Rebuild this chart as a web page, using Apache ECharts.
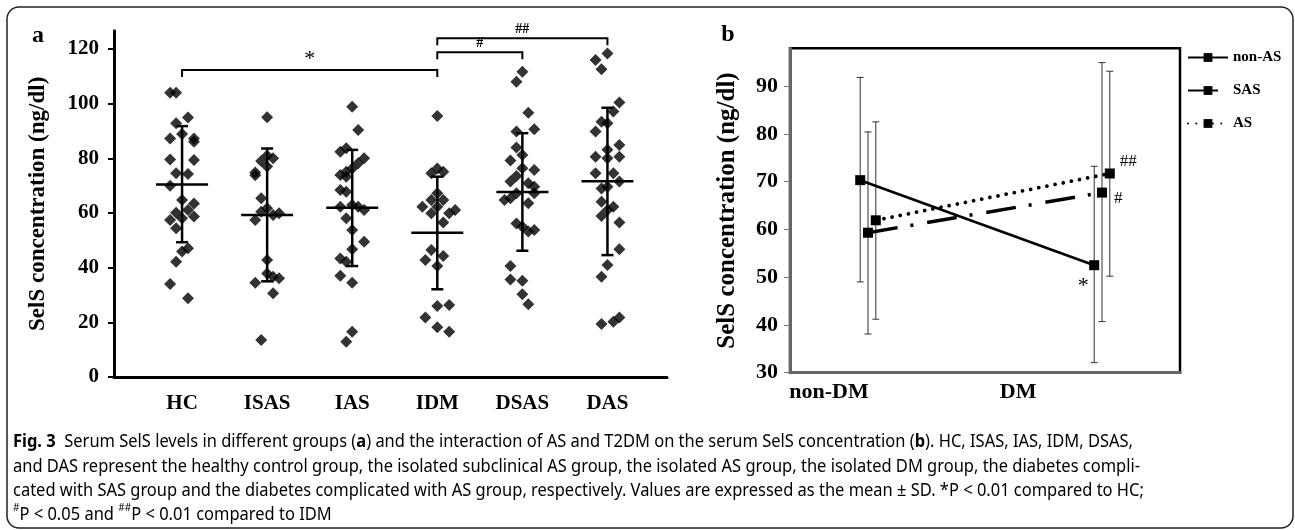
<!DOCTYPE html>
<html>
<head>
<meta charset="utf-8">
<script src="https://cdn.jsdelivr.net/npm/echarts@6/dist/echarts.min.js"></script>
<style>
html, body { margin: 0; padding: 0; background: #fff; }
#chart { width: 1295px; height: 530px; }
</style>
</head>
<body>
<div id="chart"></div>
<script>
// ---- panel a : individual values per group (value, horizontal jitter step) ----
const groups = ['HC', 'ISAS', 'IAS', 'IDM', 'DSAS', 'DAS'];

const hcVals = [104.0, 104.0, 94.9, 92.8, 88.9, 87.3, 87.3, 86.1, 79.6, 79.4, 74.5, 74.3, 70.0, 64.8, 63.5, 61.1, 60.1, 58.7, 58.1, 57.4, 54.4, 47.1, 45.9, 42.2, 34.0, 28.8];
const hcJit  = [-2, -1, 1, -1, 0, -2, 2, 2, -2, 2, -1, 1, -2, 0, 2, 1, -1, 2, 0, -2, -1, 1, 0, -1, -2, 1];

const isasVals = [95.0, 81.0, 80.0, 79.0, 77.0, 74.8, 73.8, 65.4, 61.7, 60.5, 59.9, 59.3, 57.4, 42.8, 37.9, 36.7, 36.1, 34.5, 30.6, 13.5];
const isasJit  = [0, 0, 1, -1, 0, -2, -2, -1, 0, -1, 2, 1, -2, 0, 0, 1, 2, -2, 1, -1];

const iasVals = [98.9, 90.4, 83.7, 82.4, 80.0, 78.2, 76.3, 75.1, 73.9, 73.3, 68.4, 67.8, 62.3, 62.9, 62.3, 61.1, 58.1, 53.8, 49.5, 46.7, 43.4, 42.2, 37.0, 34.5, 16.6, 12.9];
const iasJit  = [0, 1, -1, -2, 2, 1, 0, -1, -2, -1, -2, -1, -2, 0, 1, 2, -1, 0, 2, 0, -2, -1, -2, 0, 0, -1];

const idmVals = [95.5, 76.3, 75.1, 74.5, 67.2, 64.8, 64.8, 62.3, 62.3, 61.1, 59.9, 59.9, 56.5, 46.5, 44.3, 42.8, 40.6, 26.0, 26.3, 21.8, 18.2, 16.6];
const idmJit  = [0, 0, 1, -1, 0, -1, 1, -2.5, 0, 3, 2, -1, 1, -1, 1, -2, 0, 0, 2, -2, 0, 2];

const dsasVals = [111.7, 108.0, 96.7, 90.6, 89.8, 84.0, 81.2, 79.2, 76.4, 75.7, 73.5, 71.5, 70.9, 69.6, 67.2, 67.2, 65.4, 63.6, 64.8, 56.2, 55.0, 53.8, 53.2, 40.6, 35.7, 35.2, 30.3, 26.6];
const dsasJit  = [0, -1, 1, 2, -1, -1, 0, -2, 0, 2, -1, -2, 1, 2, -1, 2, -2, 1, -3, -1, 0, 2, 1, -2, -2, 0, 0, 1];

const dasVals = [118.4, 116.0, 112.6, 100.4, 97.1, 93.4, 92.8, 89.8, 84.9, 83.1, 80.6, 80.6, 80.0, 74.5, 74.5, 71.5, 69.6, 69.0, 64.1, 62.3, 61.1, 58.9, 56.5, 46.7, 41.0, 36.7, 19.4, 20.2, 21.8];
const dasJit  = [0, -2, -1, 2, 1, -1, 0, -2, 2, 0, -2, 2, 0, -2, 1, 2, 0, -1, -1, 1, 0, -1, 2, 2, 0, -1, -1, 1, 2];

const meanA   = [70.4, 59.3, 61.9, 52.8, 67.7, 71.6];
const sdLowA  = [49.3, 35.0, 40.6, 32.1, 46.2, 44.6];
const sdHighA = [91.8, 83.6, 83.1, 73.3, 89.2, 98.5];
const yTicksA = [0, 20, 40, 60, 80, 100, 120];

// significance brackets: from group, to group, height, mark
const bracketFrom = [0, 3, 3];
const bracketTo   = [3, 4, 5];
const bracketY    = [112.3, 118.8, 123.9];
const bracketMark = ['*', '#', '##'];

// ---- panel b : interaction plot ----
const dmCats   = ['non-DM', 'DM'];
const asGroups = ['non-AS', 'SAS', 'AS'];
const nonAsMean = [70.3, 52.5], nonAsLow = [49.0, 32.1], nonAsHigh = [91.8, 73.2];
const sasMean   = [59.3, 67.7], sasLow   = [38.1, 40.7], sasHigh   = [80.4, 94.9];
const asMean    = [61.9, 71.7], asLow    = [41.2, 50.2], asHigh    = [82.5, 93.1];
const dmMarks   = ['*', '#', '##'];   // marks at the DM points
const yTicksB = [30, 40, 50, 60, 70, 80, 90];

// layout helpers (not data)
const JIT = 0.07;               // one jitter step in category units
const dmPos = [2.0, 8.0];       // x of the two DM conditions
const seriesShift = [-0.2, 0, 0.2];
const dmLabelPos = [1.0, 5.85];

const SERIF = '"Liberation Serif", "Times New Roman", serif';
const SANS = '"Noto Sans", "Open Sans", sans-serif';

const chart = echarts.init(document.getElementById('chart'), null, { renderer: 'canvas' });

const groupVals = [hcVals, isasVals, iasVals, idmVals, dsasVals, dasVals];
const groupJit = [hcJit, isasJit, iasJit, idmJit, dsasJit, dasJit];
const dots = [];
groupVals.forEach((vals, g) => {
  vals.forEach((v, k) => dots.push([g + groupJit[g][k] * JIT, v]));
});

const errA = meanA.map((m, i) => [i, m, sdLowA[i], sdHighA[i]]);
const brackets = bracketFrom.map((f, i) => [f, bracketTo[i], bracketY[i]]);

function renderErrA(params, api) {
  const x = api.value(0);
  const pm = api.coord([x, api.value(1)]);
  const pl = api.coord([x, api.value(2)]);
  const ph = api.coord([x, api.value(3)]);
  const st = { stroke: '#000', lineWidth: 2.5 };
  return {
    type: 'group',
    children: [
      { type: 'line', shape: { x1: pl[0], y1: pl[1], x2: ph[0], y2: ph[1] }, style: st },
      { type: 'line', shape: { x1: pl[0] - 6, y1: pl[1], x2: pl[0] + 6, y2: pl[1] }, style: st },
      { type: 'line', shape: { x1: ph[0] - 6, y1: ph[1], x2: ph[0] + 6, y2: ph[1] }, style: st },
      { type: 'line', shape: { x1: pm[0] - 26, y1: pm[1], x2: pm[0] + 26, y2: pm[1] }, style: st }
    ]
  };
}

function renderBracket(params, api) {
  const p1 = api.coord([api.value(0), api.value(2)]);
  const p2 = api.coord([api.value(1), api.value(2)]);
  const mark = bracketMark[params.dataIndex];
  const big = mark === '*';
  return {
    type: 'group',
    children: [
      { type: 'polyline', shape: { points: [[p1[0], p1[1] + 7], [p1[0], p1[1]], [p2[0], p2[1]], [p2[0], p2[1] + 7]] },
        style: { stroke: '#000', lineWidth: 2, fill: null } },
      { type: 'text', x: (p1[0] + p2[0]) / 2, y: p1[1] - (big ? 0 : 2),
        style: { text: mark, align: 'center', verticalAlign: 'bottom',
                 font: (big ? 'normal 22px ' : 'bold 14px ') + SERIF, fill: '#000' } }
    ]
  };
}

function errB(mean, lo, hi, s) {
  return mean.map((m, i) => [dmPos[i] + seriesShift[s], lo[i], hi[i]]);
}
function renderErrB(params, api) {
  const x = api.value(0);
  const pl = api.coord([x, api.value(1)]);
  const ph = api.coord([x, api.value(2)]);
  const st = { stroke: '#333', lineWidth: 1 };
  return {
    type: 'group',
    children: [
      { type: 'line', shape: { x1: pl[0], y1: pl[1], x2: ph[0], y2: ph[1] }, style: st },
      { type: 'line', shape: { x1: pl[0] - 3.5, y1: pl[1], x2: pl[0] + 3.5, y2: pl[1] }, style: st },
      { type: 'line', shape: { x1: ph[0] - 3.5, y1: ph[1], x2: ph[0] + 3.5, y2: ph[1] }, style: st }
    ]
  };
}

const markLabel = [
  { position: 'bottom', offset: [-11, 0], fontSize: 22, fontWeight: 'normal' },
  { position: 'right', offset: [2, 6], fontSize: 17, fontWeight: 'normal' },
  { position: 'right', offset: [0, -12], fontSize: 17, fontWeight: 'normal' }
];
function lineData(mean, s) {
  return mean.map((m, i) => {
    const item = { value: [dmPos[i] + seriesShift[s], m] };
    if (i === 1) {
      item.label = Object.assign({ show: true, formatter: dmMarks[s], color: '#000', fontFamily: SERIF }, markLabel[s]);
    }
    return item;
  });
}

const lineTypes = [
  { type: 'solid', width: 2.6 },
  { type: [30, 13, 3, 14], width: 3.5 },
  { type: [0.01, 8.3], width: 3.8, cap: 'round' }
];

// caption lines: segments [text, style]
const captionLines = [
  [['Fig. 3', 'b'], ['  Serum SelS levels in different groups (', 'n'], ['a', 'b'], [') and the interaction of AS and T2DM on the serum SelS concentration (', 'n'], ['b', 'b'], ['). HC, ISAS, IAS, IDM, DSAS,', 'n']],
  [['and DAS represent the healthy control group, the isolated subclinical AS group, the isolated AS group, the isolated DM group, the diabetes compli-', 'n']],
  [['cated with SAS group and the diabetes complicated with AS group, respectively. Values are expressed as the mean \u00b1 SD. *P < 0.01 compared to HC;', 'n']],
  [['#', 'sup'], ['P < 0.05 and ', 'n'], ['##', 'sup'], ['P < 0.01 compared to IDM', 'n']]
];
const captionY = [440, 465, 489, 513];
const CAP_SIZE = 18;
const mctx = document.createElement('canvas').getContext('2d');
function measureLine(segs) {
  let w = 0;
  segs.forEach(([t, s]) => {
    const size = s === 'sup' ? 11 : CAP_SIZE;
    mctx.font = (s === 'b' ? 'bold ' : '') + size + 'px ' + SANS;
    w += mctx.measureText(t).width;
  });
  return w;
}
const capScale = 1127 / measureLine(captionLines[1]);
const capRich = {
  n: { fontFamily: SANS, fontSize: CAP_SIZE, color: '#231f20', verticalAlign: 'bottom', lineHeight: 22 },
  b: { fontFamily: SANS, fontSize: CAP_SIZE, fontWeight: 'bold', color: '#231f20', verticalAlign: 'bottom', lineHeight: 22 },
  sup: { fontFamily: SANS, fontSize: 11, color: '#231f20', verticalAlign: 'top', lineHeight: 18 }
};
const captionGraphics = captionLines.map((segs, i) => ({
  type: 'text',
  x: 13, y: captionY[i],
  scaleX: capScale,
  style: {
    text: segs.map(([t, s]) => '{' + s + '|' + t + '}').join(''),
    rich: capRich,
    verticalAlign: 'middle',
    align: 'left'
  }
}));

const option = {
  animation: false,
  backgroundColor: '#fff',
  grid: [
    { left: 114, top: 30.7, width: 553, height: 346.3 },
    { left: 790, top: 48.3, width: 390, height: 324.4, show: true, borderColor: '#000', borderWidth: 2.5 }
  ],
  legend: {
    data: asGroups,
    orient: 'vertical',
    left: 1187, top: 50, padding: 0,
    itemWidth: 40, itemHeight: 11, itemGap: 18,
    textStyle: { fontFamily: SERIF, fontWeight: 'bold', fontSize: 15, color: '#000' }
  },
  xAxis: [
    {
      gridIndex: 0, type: 'value', min: -0.8, max: 5.7,
      axisLine: { onZero: false, lineStyle: { color: '#000', width: 3 } },
      axisTick: { show: false },
      splitLine: { show: false },
      axisLabel: {
        customValues: groups.map((g, i) => i),
        formatter: v => groups[Math.round(v)],
        fontFamily: SERIF, fontWeight: 'bold', fontSize: 21, color: '#000', margin: 16
      }
    },
    {
      gridIndex: 1, type: 'value', min: 0, max: 10,
      axisLine: { onZero: false, lineStyle: { color: '#666', width: 3 } },
      axisTick: { show: false },
      splitLine: { show: false },
      axisLabel: {
        customValues: dmLabelPos,
        formatter: v => dmCats[dmLabelPos.indexOf(v)],
        fontFamily: SERIF, fontWeight: 'bold', fontSize: 22, color: '#000', margin: 9
      }
    }
  ],
  yAxis: [
    {
      gridIndex: 0, type: 'value', min: 0, max: 126.7,
      name: 'SelS concentration (ng/dl)', nameLocation: 'middle', nameGap: 64,
      nameTextStyle: { fontFamily: SERIF, fontWeight: 'bold', fontSize: 23, color: '#000' },
      axisLine: { show: true, onZero: false, lineStyle: { color: '#000', width: 3 } },
      axisTick: { show: true, customValues: yTicksA, length: 6, lineStyle: { width: 2, color: '#000' } },
      splitLine: { show: false },
      axisLabel: { customValues: yTicksA, fontFamily: SERIF, fontWeight: 'bold', fontSize: 21, color: '#000', margin: 15 }
    },
    {
      gridIndex: 1, type: 'value', min: 30, max: 97.9,
      name: 'SelS concentration (ng/dl)', nameLocation: 'middle', nameGap: 50,
      nameTextStyle: { fontFamily: SERIF, fontWeight: 'bold', fontSize: 25, color: '#000' },
      axisLine: { show: true, onZero: false, lineStyle: { color: '#666', width: 3 } },
      axisTick: { show: true, customValues: yTicksB, length: 6, lineStyle: { width: 1, color: '#777' } },
      splitLine: { show: false },
      axisLabel: { customValues: yTicksB, fontFamily: SERIF, fontWeight: 'bold', fontSize: 22, color: '#000', margin: 12 }
    }
  ],
  graphic: [
    { type: 'rect', shape: { x: 7, y: 7, width: 1286, height: 521, r: 12 },
      style: { fill: null, stroke: '#222', lineWidth: 1.5 }, silent: true },
    { type: 'text', x: 38, y: 36, style: { text: 'a', font: 'bold 24px ' + SERIF, fill: '#000', align: 'center', verticalAlign: 'middle' } },
    { type: 'text', x: 728, y: 35, style: { text: 'b', font: 'bold 24px ' + SERIF, fill: '#000', align: 'center', verticalAlign: 'middle' } }
  ].concat(captionGraphics),
  series: [
    {
      name: 'values', type: 'scatter', xAxisIndex: 0, yAxisIndex: 0,
      symbol: 'diamond', symbolSize: 12, itemStyle: { color: '#000' },
      data: dots, z: 3
    },
    {
      name: 'meanSD', type: 'custom', xAxisIndex: 0, yAxisIndex: 0,
      renderItem: renderErrA, data: errA, encode: { x: 0, y: [1, 2, 3] }, z: 4
    },
    {
      name: 'brackets', type: 'custom', xAxisIndex: 0, yAxisIndex: 0,
      renderItem: renderBracket, data: brackets, encode: { x: [0, 1], y: 2 }, z: 4
    },
    {
      name: 'errB', type: 'custom', xAxisIndex: 1, yAxisIndex: 1,
      renderItem: renderErrB,
      data: errB(nonAsMean, nonAsLow, nonAsHigh, 0)
        .concat(errB(sasMean, sasLow, sasHigh, 1))
        .concat(errB(asMean, asLow, asHigh, 2)),
      encode: { x: 0, y: [1, 2] }, z: 2
    }
  ].concat([nonAsMean, sasMean, asMean].map((mean, s) => ({
    name: asGroups[s], type: 'line', xAxisIndex: 1, yAxisIndex: 1,
    symbol: 'rect', symbolSize: 10, showAllSymbol: true,
    itemStyle: { color: '#000' },
    lineStyle: Object.assign({ color: '#000' }, lineTypes[s]),
    data: lineData(mean, s), z: 5
  })))
};

chart.setOption(option);
</script>
</body>
</html>
